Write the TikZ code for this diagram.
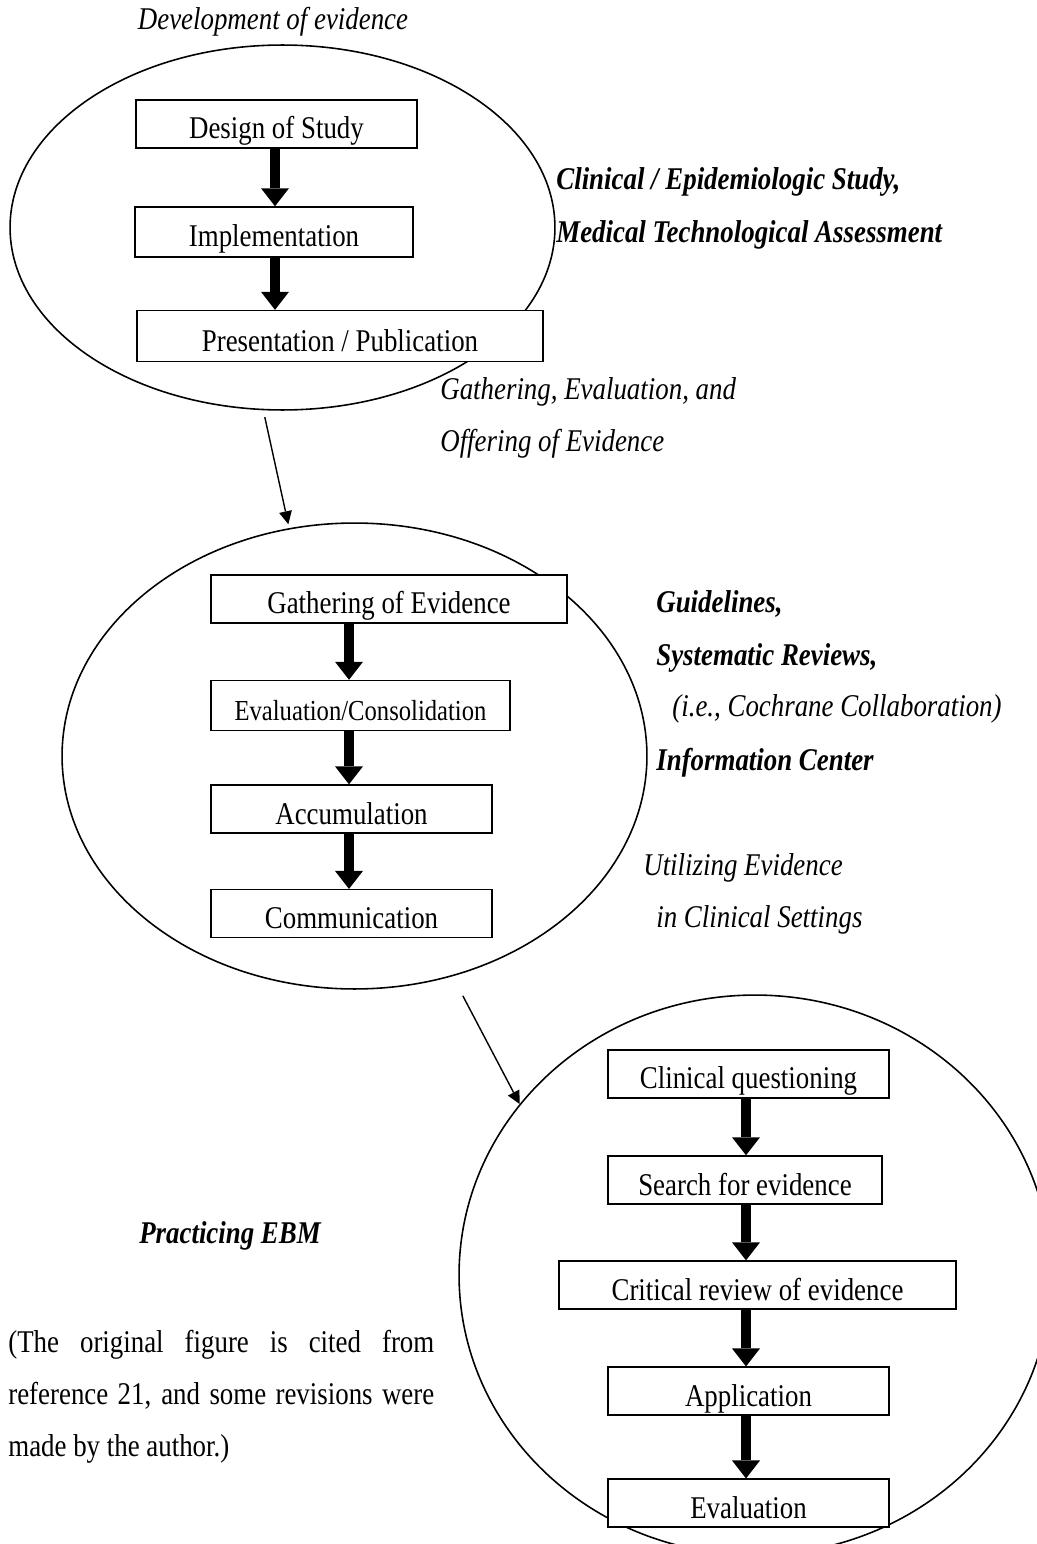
\documentclass[tikz,border=0pt]{standalone}
\usepackage{fontspec}
\setmainfont{Liberation Serif}[FakeStretch=0.85]
\usetikzlibrary{shapes.geometric, arrows.meta, positioning}

\newcommand\figfont{\fontsize{18}{22}\selectfont}

\begin{document}
\begin{tikzpicture}[x=0.02cm, y=-0.02cm,
        box/.style={draw, rectangle, fill=white, line width=0.9pt, inner sep=0pt, minimum height=0.96cm, text height=17pt, text depth=0pt, font=\figfont},
        stage/.style={draw, ellipse, line width=0.9pt, inner sep=0pt},
        bigarrow/.style={line width=0.2cm, -{Triangle[width=0.56cm, length=0.36cm, line width=0pt]}},
        thinarrow/.style={line width=0.8pt, -{Triangle[width=0.26cm, length=0.26cm, line width=0pt]}},
        note/.style={anchor=base west, inner sep=0pt, font=\figfont\itshape},
        keynote/.style={anchor=base west, inner sep=0pt, font=\figfont\bfseries\itshape}]
        \useasboundingbox (0,0) rectangle (1037,1544);

        % the three stages
        \node[stage, minimum width=10.9cm, minimum height=7.3cm] (devcircle) at (282.5,227.5) {};
        \node[stage, minimum width=11.7cm, minimum height=9.32cm] (gathcircle) at (354.5,756) {};
        \node[stage, minimum width=11.84cm, minimum height=11.2cm] (ebmcircle) at (755,1275) {};

        \coordinate (col1) at (275,0);
        \coordinate (col2) at (349,0);
        \coordinate (col3) at (746,0);

        % development of evidence
        \node[font=\figfont\itshape, inner sep=0pt] (devtitle) at (273,22) {Development of evidence};
        \node[box, minimum width=5.62cm] (design) at (276.5,124) {Design of Study};
        \node[box, minimum width=5.56cm, minimum height=1cm, below=1.15cm of design, xshift=-0.05cm] (implement) {Implementation};
        \node[box, minimum width=8.12cm, minimum height=1.02cm, below=1.04cm of implement, xshift=1.32cm] (present) {Presentation / Publication};

        \draw[bigarrow] (design.south -| col1) -- (implement.north -| col1);
        \draw[bigarrow] (implement.south -| col1) -- (present.north -| col1);

        \node[keynote] (clinstudy) at (556,190) {Clinical / Epidemiologic Study,};
        \node[keynote] (techassess) at (556,242) {Medical Technological Assessment};
        \node[note] (gathnote) at (440,399) {Gathering, Evaluation, and};
        \node[note] (offernote) at (440,451) {Offering of Evidence};

        % gathering and offering of evidence
        \node[box, minimum width=7.12cm] (gather) at (389,599) {Gathering of Evidence};
        \node[box, minimum width=5.98cm, minimum height=1cm, below=1.12cm of gather, xshift=-0.57cm, font=\fontsize{16.5}{20}\selectfont] (evalcons) {Evaluation/Consolidation};
        \node[box, minimum width=5.62cm, below=1.06cm of evalcons, xshift=-0.18cm] (accum) {Accumulation};
        \node[box, minimum width=5.62cm, below=1.1cm of accum] (commun) {Communication};

        \draw[bigarrow] (gather.south -| col2) -- (evalcons.north -| col2);
        \draw[bigarrow] (evalcons.south -| col2) -- (accum.north -| col2);
        \draw[bigarrow] (accum.south -| col2) -- (commun.north -| col2);

        \node[keynote] (guide) at (656,612) {Guidelines,};
        \node[keynote] (sysrev) at (656,665) {Systematic Reviews,};
        \node[note] (cochrane) at (672,716) {(i.e., Cochrane Collaboration)};
        \node[keynote] (infocenter) at (656,770) {Information Center};
        \node[note] (usenote) at (643,875) {Utilizing Evidence};
        \node[note] (setnote) at (656,927) {in Clinical Settings};

        % practicing EBM
        \node[box, minimum width=5.62cm] (question) at (748.5,1074) {Clinical questioning};
        \node[box, minimum width=5.48cm, below=1.13cm of question, xshift=-0.07cm] (search) {Search for evidence};
        \node[box, minimum width=7.94cm, below=1.11cm of search, xshift=0.25cm] (critical) {Critical review of evidence};
        \node[box, minimum width=5.62cm, below=1.13cm of critical, xshift=-0.18cm] (apply) {Application};
        \node[box, minimum width=5.62cm, below=1.25cm of apply] (evaluate) {Evaluation};

        \draw[bigarrow] (question.south -| col3) -- (search.north -| col3);
        \draw[bigarrow] (search.south -| col3) -- (critical.north -| col3);
        \draw[bigarrow] (critical.south -| col3) -- (apply.north -| col3);
        \draw[bigarrow] (apply.south -| col3) -- (evaluate.north -| col3);

        \node[font=\figfont\bfseries\itshape, inner sep=0pt] (ebmnote) at (230,1236) {Practicing EBM};
        \node[anchor=north west, inner sep=0pt, text width=8.52cm, align=justify, font=\fontsize{18}{29.5}\selectfont] (citenote) at (8,1330)
            {(The original figure is cited from\linebreak reference 21, and some revisions were\linebreak made by the author.)};

        % links between the stages
        \draw[thinarrow, shorten <=0.14cm, shorten >=0.08cm] (devcircle.-96) -- (gathcircle.106);
        \draw[thinarrow, shorten <=0.44cm] (gathcircle.-66) -- (ebmcircle.144);
    \end{tikzpicture}
\end{document}
